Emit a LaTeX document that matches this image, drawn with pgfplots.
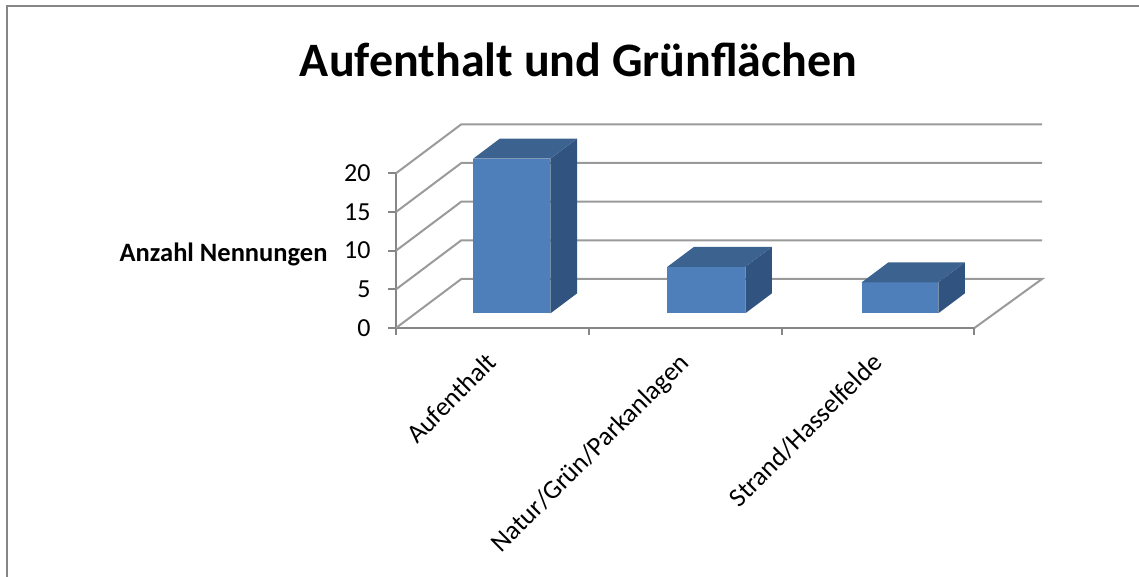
\documentclass[border=0pt]{standalone}
\usepackage{pgfplots}
\pgfplotsset{compat=1.18}
\usepackage{fontspec}
\setmainfont{Carlito}
\definecolor{front}{HTML}{4E7FBB}
\definecolor{topc}{HTML}{3C628F}
\definecolor{sidec}{HTML}{305380}
\definecolor{gridc}{HTML}{9A9A9A}
\definecolor{axc}{HTML}{868686}
\begin{document}
\begin{tikzpicture}[x=1pt,y=1pt]
\path[use as bounding box] (-396,328) rectangle (743,-249);
\draw[axc,line width=2pt] (-389.3,-260) -- (-389.3,322.3) -- (760,322.3);
\node[font=\bfseries\fontsize{48}{48}\selectfont,anchor=center] at (182.5,268.5) {Aufenthalt und Grünflächen};
\node[font=\bfseries\fontsize{26.5}{26.5}\selectfont,anchor=east] at (-65,74) {Anzahl Nennungen};
\begin{axis}[
  at={(0,0)}, anchor=origin,
  x={(192.8pt,0pt)}, y={(65.3pt,49pt)}, z={(0pt,7.735pt)},
  xmin=0,xmax=3,ymin=0,ymax=1,zmin=0,zmax=20,
  clip=false,
  axis x line*=bottom, axis y line=none, axis z line*=left,
  axis line style={axc,line width=2pt,-},
  xtick={0.5,1.5,2.5},
  xticklabels={Aufenthalt,Natur/Grün/Parkanlagen,Strand/Hasselfelde},
  ztick={0,5,10,15,20},
  major tick length=0pt,
  z tick label style={font=\fontsize{26}{26}\selectfont,anchor=east,xshift=-22pt,yshift=0pt},
  x tick label style={rotate=45,anchor=north east,font=\fontsize{26.5}{26.5}\selectfont,xshift=-18.3pt,yshift=-7.5pt},
  /pgf/number format/assume math mode=true,
]
% side wall and back wall lines
\addplot3[gridc,line width=2pt,no marks] coordinates {(0,0,0)(0,1,0)(3.012,1,0)(3,0,0)};
\addplot3[gridc,line width=2pt,no marks] coordinates {(0,0,5)(0,1,5)(3.012,1,5)};
\addplot3[gridc,line width=2pt,no marks] coordinates {(0,0,10)(0,1,10)(3.012,1,10)};
\addplot3[gridc,line width=2pt,no marks] coordinates {(0,0,15)(0,1,15)(3.012,1,15)};
\addplot3[gridc,line width=2pt,no marks] coordinates {(0,0,20)(0,1,20)(3.012,1,20)};
% tick marks
\addplot3[axc,line width=2pt,no marks] coordinates {(0,0,0)(0,0,-0.95)};
\addplot3[axc,line width=2pt,no marks] coordinates {(1,0,0)(1,0,-0.95)};
\addplot3[axc,line width=2pt,no marks] coordinates {(2,0,0)(2,0,-0.95)};
\addplot3[axc,line width=2pt,no marks] coordinates {(3,0,0)(3,0,-0.95)};
\addplot3[axc,line width=2pt,no marks] coordinates {(0,0,0)(-0.04,0,0)};
\addplot3[axc,line width=2pt,no marks] coordinates {(0,0,5)(-0.04,0,5)};
\addplot3[axc,line width=2pt,no marks] coordinates {(0,0,10)(-0.04,0,10)};
\addplot3[axc,line width=2pt,no marks] coordinates {(0,0,15)(-0.04,0,15)};
\addplot3[axc,line width=2pt,no marks] coordinates {(0,0,20)(-0.04,0,20)};
% bar 1: value 20
\addplot3[fill=front,draw=none,no marks] coordinates {(0.299,0.3,0)(0.6996,0.3,0)(0.6996,0.3,20)(0.299,0.3,20)} -- cycle;
\addplot3[fill=sidec,draw=none,no marks] coordinates {(0.6996,0.3,0)(0.6996,0.708,0)(0.6996,0.708,20)(0.6996,0.3,20)} -- cycle;
\addplot3[fill=topc,draw=none,no marks] coordinates {(0.299,0.3,20)(0.6996,0.3,20)(0.6996,0.708,20)(0.299,0.708,20)} -- cycle;
% bar 2: value 6
\addplot3[fill=front,draw=none,no marks] coordinates {(1.3055,0.3,0)(1.71,0.3,0)(1.71,0.3,6)(1.3055,0.3,6)} -- cycle;
\addplot3[fill=sidec,draw=none,no marks] coordinates {(1.71,0.3,0)(1.71,0.708,0)(1.71,0.708,6)(1.71,0.3,6)} -- cycle;
\addplot3[fill=topc,draw=none,no marks] coordinates {(1.3055,0.3,6)(1.71,0.3,6)(1.71,0.708,6)(1.3055,0.708,6)} -- cycle;
% bar 3: value 4
\addplot3[fill=front,draw=none,no marks] coordinates {(2.314,0.3,0)(2.711,0.3,0)(2.711,0.3,4)(2.314,0.3,4)} -- cycle;
\addplot3[fill=sidec,draw=none,no marks] coordinates {(2.711,0.3,0)(2.711,0.708,0)(2.711,0.708,4)(2.711,0.3,4)} -- cycle;
\addplot3[fill=topc,draw=none,no marks] coordinates {(2.314,0.3,4)(2.711,0.3,4)(2.711,0.708,4)(2.314,0.708,4)} -- cycle;
\end{axis}
\end{tikzpicture}
\end{document}
